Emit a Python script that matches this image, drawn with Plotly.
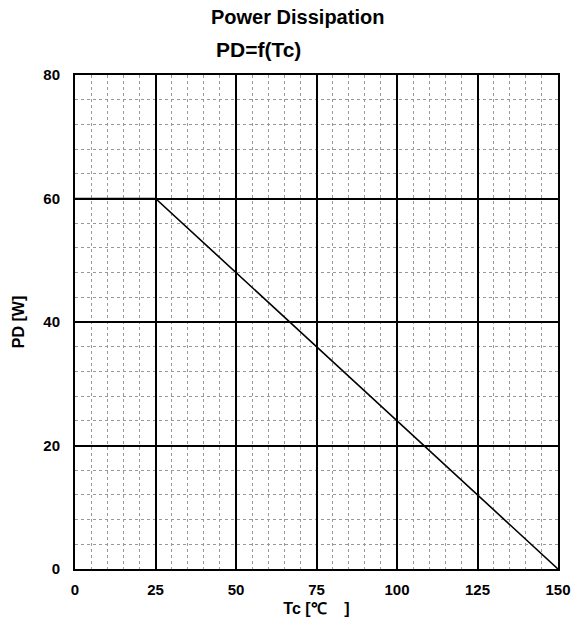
import plotly.graph_objects as go

tc = [0, 25, 150]
pd_w = [60, 60, 0]
x_ticks = [0, 25, 50, 75, 100, 125, 150]
y_ticks = [0, 20, 40, 60, 80]

W, H = 573, 630
L, R, T, B = 75, 15, 75, 61

fig = go.Figure()
fig.add_trace(go.Scatter(x=tc, y=pd_w, mode="lines",
                         line=dict(color="black", width=1.6), showlegend=False,
                         hoverinfo="skip"))

font_b = "Liberation Sans"
fig.update_layout(
    width=W, height=H,
    margin=dict(l=L, r=R, t=T, b=B, autoexpand=False),
    paper_bgcolor="white", plot_bgcolor="white",
    font=dict(family=font_b, color="black", size=12),
    xaxis=dict(range=[0, 150], tickvals=x_ticks, ticktext=[f"<b>{v}</b>" for v in x_ticks],
               automargin=False,
               showgrid=True, gridcolor="black", gridwidth=2,
               showline=True, linecolor="black", linewidth=2, mirror=True,
               zeroline=False, ticks="outside", ticklen=6, tickcolor="white",
               tickfont=dict(size=15, family=font_b),
               minor=dict(dtick=5, showgrid=True, gridcolor="#999999", gridwidth=1, griddash="dot"),
               title=dict(text="<b>Tc [℃    ]</b>", font=dict(size=16, family=font_b), standoff=6)),
    yaxis=dict(range=[0, 80], tickvals=y_ticks, ticktext=[f"<b>{v}</b>" for v in y_ticks],
               automargin=False,
               showgrid=True, gridcolor="black", gridwidth=2,
               showline=True, linecolor="black", linewidth=2, mirror=True,
               zeroline=False, ticks="outside", ticklen=10, tickcolor="white",
               tickfont=dict(size=15, family=font_b),
               minor=dict(dtick=4, showgrid=True, gridcolor="#999999", gridwidth=1, griddash="dot"),
               title=dict(text="<b>PD [W]</b>", font=dict(size=16, family=font_b), standoff=15)),
    annotations=[
        dict(text="<b>Power Dissipation</b>", x=297, y=H - 17, xref="paper", yref="paper",
             xanchor="center", yanchor="middle",
             showarrow=False, font=dict(size=20, family=font_b)),
        dict(text="<b>PD=f(Tc)</b>", x=258, y=H - 50, xref="paper", yref="paper",
             xanchor="center", yanchor="middle",
             showarrow=False, font=dict(size=21, family=font_b)),
    ],
)
# convert pixel positions of annotations to paper fractions
pw, ph = W - L - R, H - T - B
for a in fig.layout.annotations:
    a.x = (a.x - L) / pw
    a.y = (a.y - B) / ph

fig.write_html("out.html", config={"displayModeBar": False},
               post_script="document.body.style.margin='0';")
